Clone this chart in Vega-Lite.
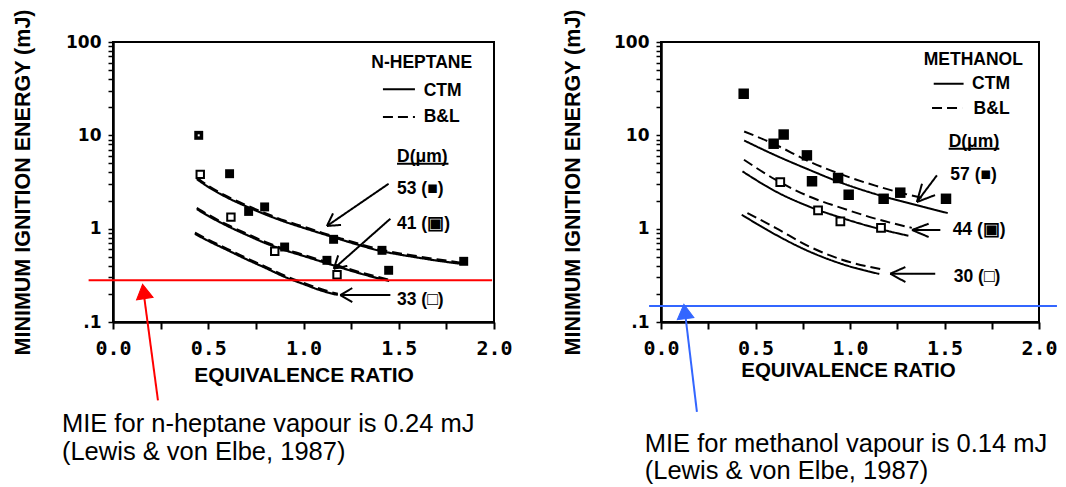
{
  "$schema": "https://vega.github.io/schema/vega-lite/v6.json",
  "padding": {"left": 10, "top": 7, "right": 0, "bottom": 0},
  "autosize": {"type": "pad"},
  "background": "white",
  "config": {"view": {"stroke": "black", "strokeWidth": 2}, "font": "Liberation Sans"},
  "bounds": "flush",
  "spacing": 167,
  "datasets": {
    "curvesL": [
      {"c": "53", "m": "CTM", "x": 0.44, "y": 3.4}, {"c": "53", "m": "CTM", "x": 0.5, "y": 2.8}, {"c": "53", "m": "CTM", "x": 0.6, "y": 2.15}, {"c": "53", "m": "CTM", "x": 0.7, "y": 1.73}, {"c": "53", "m": "CTM", "x": 0.8, "y": 1.42}, {"c": "53", "m": "CTM", "x": 0.9, "y": 1.19}, {"c": "53", "m": "CTM", "x": 1.0, "y": 1.02}, {"c": "53", "m": "CTM", "x": 1.1, "y": 0.88}, {"c": "53", "m": "CTM", "x": 1.2, "y": 0.76}, {"c": "53", "m": "CTM", "x": 1.3, "y": 0.66}, {"c": "53", "m": "CTM", "x": 1.4, "y": 0.58}, {"c": "53", "m": "CTM", "x": 1.5, "y": 0.53}, {"c": "53", "m": "CTM", "x": 1.6, "y": 0.49}, {"c": "53", "m": "CTM", "x": 1.7, "y": 0.455}, {"c": "53", "m": "CTM", "x": 1.83, "y": 0.42},
      {"c": "53", "m": "B&L", "x": 0.44, "y": 3.5}, {"c": "53", "m": "B&L", "x": 0.5, "y": 2.88}, {"c": "53", "m": "B&L", "x": 0.6, "y": 2.21}, {"c": "53", "m": "B&L", "x": 0.7, "y": 1.78}, {"c": "53", "m": "B&L", "x": 0.8, "y": 1.46}, {"c": "53", "m": "B&L", "x": 0.9, "y": 1.22}, {"c": "53", "m": "B&L", "x": 1.0, "y": 1.05}, {"c": "53", "m": "B&L", "x": 1.1, "y": 0.9}, {"c": "53", "m": "B&L", "x": 1.2, "y": 0.78}, {"c": "53", "m": "B&L", "x": 1.3, "y": 0.68}, {"c": "53", "m": "B&L", "x": 1.4, "y": 0.6}, {"c": "53", "m": "B&L", "x": 1.5, "y": 0.545}, {"c": "53", "m": "B&L", "x": 1.6, "y": 0.505}, {"c": "53", "m": "B&L", "x": 1.7, "y": 0.47}, {"c": "53", "m": "B&L", "x": 1.83, "y": 0.43},
      {"c": "41", "m": "CTM", "x": 0.44, "y": 1.62}, {"c": "41", "m": "CTM", "x": 0.5, "y": 1.37}, {"c": "41", "m": "CTM", "x": 0.6, "y": 1.07}, {"c": "41", "m": "CTM", "x": 0.7, "y": 0.86}, {"c": "41", "m": "CTM", "x": 0.8, "y": 0.7}, {"c": "41", "m": "CTM", "x": 0.9, "y": 0.59}, {"c": "41", "m": "CTM", "x": 1.0, "y": 0.51}, {"c": "41", "m": "CTM", "x": 1.1, "y": 0.44}, {"c": "41", "m": "CTM", "x": 1.2, "y": 0.38}, {"c": "41", "m": "CTM", "x": 1.3, "y": 0.33}, {"c": "41", "m": "CTM", "x": 1.45, "y": 0.275},
      {"c": "41", "m": "B&L", "x": 0.44, "y": 1.67}, {"c": "41", "m": "B&L", "x": 0.5, "y": 1.41}, {"c": "41", "m": "B&L", "x": 0.6, "y": 1.1}, {"c": "41", "m": "B&L", "x": 0.7, "y": 0.885}, {"c": "41", "m": "B&L", "x": 0.8, "y": 0.72}, {"c": "41", "m": "B&L", "x": 0.9, "y": 0.605}, {"c": "41", "m": "B&L", "x": 1.0, "y": 0.525}, {"c": "41", "m": "B&L", "x": 1.1, "y": 0.453}, {"c": "41", "m": "B&L", "x": 1.2, "y": 0.39}, {"c": "41", "m": "B&L", "x": 1.3, "y": 0.34}, {"c": "41", "m": "B&L", "x": 1.45, "y": 0.283},
      {"c": "33", "m": "CTM", "x": 0.43, "y": 0.88}, {"c": "33", "m": "CTM", "x": 0.5, "y": 0.74}, {"c": "33", "m": "CTM", "x": 0.6, "y": 0.59}, {"c": "33", "m": "CTM", "x": 0.7, "y": 0.47}, {"c": "33", "m": "CTM", "x": 0.8, "y": 0.38}, {"c": "33", "m": "CTM", "x": 0.9, "y": 0.305}, {"c": "33", "m": "CTM", "x": 1.0, "y": 0.255}, {"c": "33", "m": "CTM", "x": 1.1, "y": 0.215}, {"c": "33", "m": "CTM", "x": 1.18, "y": 0.195},
      {"c": "33", "m": "B&L", "x": 0.43, "y": 0.905}, {"c": "33", "m": "B&L", "x": 0.5, "y": 0.762}, {"c": "33", "m": "B&L", "x": 0.6, "y": 0.607}, {"c": "33", "m": "B&L", "x": 0.7, "y": 0.484}, {"c": "33", "m": "B&L", "x": 0.8, "y": 0.391}, {"c": "33", "m": "B&L", "x": 0.9, "y": 0.314}, {"c": "33", "m": "B&L", "x": 1.0, "y": 0.263}, {"c": "33", "m": "B&L", "x": 1.1, "y": 0.222}, {"c": "33", "m": "B&L", "x": 1.18, "y": 0.2}
    ],
    "curvesR": [
      {"c": "57", "m": "CTM", "x": 0.44, "y": 8.8}, {"c": "57", "m": "CTM", "x": 0.606, "y": 6.1}, {"c": "57", "m": "CTM", "x": 0.782, "y": 4.29}, {"c": "57", "m": "CTM", "x": 0.958, "y": 3.08}, {"c": "57", "m": "CTM", "x": 1.134, "y": 2.35}, {"c": "57", "m": "CTM", "x": 1.309, "y": 1.88}, {"c": "57", "m": "CTM", "x": 1.517, "y": 1.47},
      {"c": "57", "m": "B&L", "x": 0.44, "y": 11.0}, {"c": "57", "m": "B&L", "x": 0.606, "y": 7.94}, {"c": "57", "m": "B&L", "x": 0.782, "y": 5.26}, {"c": "57", "m": "B&L", "x": 0.958, "y": 3.79}, {"c": "57", "m": "B&L", "x": 1.134, "y": 2.89}, {"c": "57", "m": "B&L", "x": 1.309, "y": 2.31}, {"c": "57", "m": "B&L", "x": 1.39, "y": 2.12},
      {"c": "44", "m": "CTM", "x": 0.431, "y": 4.11}, {"c": "44", "m": "CTM", "x": 0.606, "y": 2.51}, {"c": "44", "m": "CTM", "x": 0.782, "y": 1.73}, {"c": "44", "m": "CTM", "x": 0.958, "y": 1.3}, {"c": "44", "m": "CTM", "x": 1.134, "y": 1.02}, {"c": "44", "m": "CTM", "x": 1.309, "y": 0.84},
      {"c": "44", "m": "B&L", "x": 0.439, "y": 5.48}, {"c": "44", "m": "B&L", "x": 0.606, "y": 3.35}, {"c": "44", "m": "B&L", "x": 0.782, "y": 2.22}, {"c": "44", "m": "B&L", "x": 0.958, "y": 1.66}, {"c": "44", "m": "B&L", "x": 1.134, "y": 1.28}, {"c": "44", "m": "B&L", "x": 1.327, "y": 1.02},
      {"c": "30", "m": "CTM", "x": 0.427, "y": 1.41}, {"c": "30", "m": "CTM", "x": 0.606, "y": 0.863}, {"c": "30", "m": "CTM", "x": 0.782, "y": 0.572}, {"c": "30", "m": "CTM", "x": 0.958, "y": 0.418}, {"c": "30", "m": "CTM", "x": 1.155, "y": 0.327},
      {"c": "30", "m": "B&L", "x": 0.457, "y": 1.47}, {"c": "30", "m": "B&L", "x": 0.606, "y": 1.02}, {"c": "30", "m": "B&L", "x": 0.782, "y": 0.647}, {"c": "30", "m": "B&L", "x": 0.958, "y": 0.465}, {"c": "30", "m": "B&L", "x": 1.16, "y": 0.37}
    ],
    "ptsL": [
      {"d": "53", "x": 0.612, "y": 3.88}, {"d": "53", "x": 0.712, "y": 1.53}, {"d": "53", "x": 0.796, "y": 1.71}, {"d": "53", "x": 0.901, "y": 0.636}, {"d": "53", "x": 1.158, "y": 0.769}, {"d": "53", "x": 1.123, "y": 0.458}, {"d": "53", "x": 1.412, "y": 0.586}, {"d": "53", "x": 1.447, "y": 0.358}, {"d": "53", "x": 1.841, "y": 0.447},
      {"d": "41", "x": 0.45, "y": 10.0},
      {"d": "33", "x": 0.458, "y": 3.82}, {"d": "33", "x": 0.619, "y": 1.33}, {"d": "33", "x": 0.849, "y": 0.572}, {"d": "33", "x": 1.176, "y": 0.321}
    ],
    "ptsR": [
      {"d": "57", "x": 0.4375, "y": 27.9}, {"d": "57", "x": 0.596, "y": 8.13}, {"d": "57", "x": 0.649, "y": 10.2}, {"d": "57", "x": 0.772, "y": 6.1}, {"d": "57", "x": 0.799, "y": 3.22}, {"d": "57", "x": 0.937, "y": 3.49}, {"d": "57", "x": 0.993, "y": 2.31}, {"d": "57", "x": 1.178, "y": 2.09}, {"d": "57", "x": 1.266, "y": 2.43}, {"d": "57", "x": 1.508, "y": 2.09},
      {"d": "44", "x": 0.631, "y": 3.16}, {"d": "44", "x": 0.831, "y": 1.57}, {"d": "44", "x": 0.949, "y": 1.2}, {"d": "44", "x": 1.164, "y": 1.02}
    ],
    "segL": [
      {"k": "solid", "x": 1.417, "y": 31.1, "x2": 1.585, "y2": 31.1},
      {"k": "dash", "x": 1.417, "y": 15.7, "x2": 1.585, "y2": 15.7},
      {"k": "solid", "x": 1.491, "y": 4.97, "x2": 1.761, "y2": 4.97},
      {"k": "solid", "x": 1.447, "y": 3.03, "x2": 1.123, "y2": 1.068},
      {"k": "solid", "x": 1.123, "y": 1.068, "x2": 1.197, "y2": 1.097},
      {"k": "solid", "x": 1.123, "y": 1.068, "x2": 1.155, "y2": 1.457},
      {"k": "solid", "x": 1.456, "y": 1.278, "x2": 1.159, "y2": 0.3724},
      {"k": "solid", "x": 1.159, "y": 0.3724, "x2": 1.23, "y2": 0.399},
      {"k": "solid", "x": 1.159, "y": 0.3724, "x2": 1.182, "y2": 0.517},
      {"k": "solid", "x": 1.456, "y": 0.1945, "x2": 1.193, "y2": 0.1945},
      {"k": "solid", "x": 1.193, "y": 0.1945, "x2": 1.256, "y2": 0.231},
      {"k": "solid", "x": 1.193, "y": 0.1945, "x2": 1.256, "y2": 0.1637}
    ],
    "segR": [
      {"k": "solid", "x": 1.443, "y": 35.7, "x2": 1.601, "y2": 35.7},
      {"k": "dash", "x": 1.434, "y": 19.6, "x2": 1.593, "y2": 19.6},
      {"k": "solid", "x": 1.522, "y": 7.2, "x2": 1.79, "y2": 7.2},
      {"k": "solid", "x": 1.46, "y": 3.73, "x2": 1.354, "y2": 1.93},
      {"k": "solid", "x": 1.354, "y": 1.93, "x2": 1.45, "y2": 2.29},
      {"k": "solid", "x": 1.354, "y": 1.93, "x2": 1.381, "y2": 3.03},
      {"k": "solid", "x": 1.478, "y": 0.968, "x2": 1.328, "y2": 0.968},
      {"k": "solid", "x": 1.328, "y": 0.968, "x2": 1.416, "y2": 1.13},
      {"k": "solid", "x": 1.328, "y": 0.968, "x2": 1.416, "y2": 0.814},
      {"k": "solid", "x": 1.451, "y": 0.329, "x2": 1.213, "y2": 0.329},
      {"k": "solid", "x": 1.213, "y": 0.329, "x2": 1.293, "y2": 0.388},
      {"k": "solid", "x": 1.213, "y": 0.329, "x2": 1.293, "y2": 0.268}
    ],
    "legL": [
      {"x": 1.356, "y": 53.1, "t": "N-HEPTANE"}, {"x": 1.631, "y": 26.4, "t": "CTM"}, {"x": 1.631, "y": 13.9, "t": "B&L"}, {"x": 1.491, "y": 5.18, "t": "D(μm)"}, {"x": 1.491, "y": 2.37, "t": "53 (■)"}, {"x": 1.491, "y": 1.0, "t": "41 (▣)"}, {"x": 1.491, "y": 0.151, "t": "33 (□)"}
    ],
    "legR": [
      {"x": 1.39, "y": 56.3, "t": "METHANOL"}, {"x": 1.646, "y": 31.1, "t": "CTM"}, {"x": 1.654, "y": 17.1, "t": "B&L"}, {"x": 1.522, "y": 7.5, "t": "D(μm)"}, {"x": 1.531, "y": 3.3, "t": "57 (■)"}, {"x": 1.543, "y": 0.849, "t": "44 (▣)"}, {"x": 1.549, "y": 0.268, "t": "30 (□)"}
    ],
    "noteL": [
      {"x": -0.268, "y": 0.00662, "t": "MIE for n-heptane vapour is 0.24 mJ"}, {"x": -0.268, "y": 0.00335, "t": "(Lewis & von Elbe, 1987)"}
    ],
    "noteR": [
      {"x": -0.086, "y": 0.00405, "t": "MIE for methanol vapour is 0.14 mJ"}, {"x": -0.086, "y": 0.00207, "t": "(Lewis & von Elbe, 1987)"}
    ],
    "mieL": [{"x": -0.128, "x2": 1.99, "y": 0.28}],
    "mieR": [{"x": -0.063, "x2": 2.095, "y": 0.148}],
    "shaftL": [{"x": 0.236, "y": 0.0145, "x2": 0.163, "y2": 0.19}],
    "shaftR": [{"x": 0.19, "y": 0.01086, "x2": 0.129, "y2": 0.118}],
    "headL": [{"x": 0.163, "y": 0.2}],
    "headR": [{"x": 0.127, "y": 0.122}]
  },
  "hconcat": [
    {
      "width": 381,
      "height": 280,
      "encoding": {
        "x": {"field": "x", "type": "quantitative", "scale": {"domain": [0, 2], "nice": false, "zero": false},
          "axis": {"title": "EQUIVALENCE RATIO", "values": [0, 0.25, 0.5, 0.75, 1, 1.25, 1.5, 1.75, 2], "labelExpr": "datum.value % 0.5 == 0 ? format(datum.value, '.1f') : ''", "labelFlush": false, "labelOverlap": false, "labelBound": false, "labelFont": "DejaVu Sans Mono", "labelFontWeight": "bold", "labelFontSize": 20, "labelColor": "black", "labelBaseline": "middle", "labelPadding": 19, "tickSize": 7, "tickWidth": 2, "tickColor": "black", "domainColor": "black", "domainWidth": 2.5, "grid": false, "titleFont": "Liberation Sans", "titleFontWeight": "bold", "titleFontSize": 21, "titleColor": "black", "titleBaseline": "middle", "titleAlign": "center", "titleX": 190.5, "titleY": 53}},
        "y": {"field": "y", "type": "quantitative", "scale": {"type": "log", "domain": [0.1, 100], "nice": false},
          "axis": {"title": "MINIMUM IGNITION ENERGY (mJ)", "values": [0.1, 0.2, 0.3, 0.4, 0.5, 0.6, 0.7, 0.8, 0.9, 1, 2, 3, 4, 5, 6, 7, 8, 9, 10, 20, 30, 40, 50, 60, 70, 80, 90, 100], "labelExpr": "datum.value == 0.1 ? '.1' : (datum.value == 1 || datum.value == 10 || datum.value == 100 ? format(datum.value, 'd') : '')", "labelFlush": false, "labelOverlap": false, "labelBound": false, "labelFont": "DejaVu Sans", "labelFontWeight": "bold", "labelFontSize": 17, "labelColor": "black", "labelPadding": 7, "tickSize": 5, "tickWidth": 1.5, "tickColor": "black", "domainColor": "black", "domainWidth": 2.5, "grid": false, "titleFont": "Liberation Sans", "titleFontWeight": "bold", "titleFontSize": 21.5, "titleColor": "black", "titleAngle": 270, "titleBaseline": "middle", "titleAlign": "center", "titleX": -90, "titleY": 140}}
      },
      "layer": [
        {"data": {"name": "curvesL"}, "mark": {"type": "line", "interpolate": "monotone", "clip": false, "strokeWidth": 2.2, "color": "black"},
          "encoding": {"detail": {"field": "c"}, "strokeDash": {"field": "m", "type": "nominal", "scale": {"domain": ["CTM", "B&L"], "range": [[1, 0], [10, 5]]}, "legend": null}}},
        {"data": {"name": "ptsL"}, "transform": [{"filter": "datum.d != '33'"}], "mark": {"type": "point", "shape": "square", "filled": true, "color": "black", "size": 80, "opacity": 1, "clip": false}},
        {"data": {"name": "ptsL"}, "transform": [{"filter": "datum.d == '41'"}], "mark": {"type": "point", "shape": "square", "filled": true, "color": "white", "size": 4, "opacity": 1, "clip": false}},
        {"data": {"name": "ptsL"}, "transform": [{"filter": "datum.d == '33'"}], "mark": {"type": "point", "shape": "square", "filled": true, "fill": "white", "stroke": "black", "strokeWidth": 2, "size": 55, "opacity": 1, "clip": false}},
        {"data": {"name": "segL"}, "mark": {"type": "rule", "color": "black", "strokeWidth": 2, "clip": false},
          "encoding": {"x2": {"field": "x2"}, "y2": {"field": "y2"}, "strokeDash": {"field": "k", "type": "nominal", "scale": {"domain": ["solid", "dash"], "range": [[1, 0], [8, 10]]}, "legend": null}}},
        {"data": {"name": "legL"}, "mark": {"type": "text", "align": "left", "baseline": "alphabetic", "font": "Liberation Sans", "fontWeight": "bold", "fontSize": 17.5, "color": "black", "clip": false},
          "encoding": {"text": {"field": "t"}}},
        {"data": {"name": "mieL"}, "mark": {"type": "rule", "color": "#ff0000", "strokeWidth": 2, "clip": false},
          "encoding": {"x2": {"field": "x2"}}},
        {"data": {"name": "shaftL"}, "mark": {"type": "rule", "color": "#ff0000", "strokeWidth": 2, "clip": false},
          "encoding": {"x2": {"field": "x2"}, "y2": {"field": "y2"}}},
        {"data": {"name": "headL"}, "mark": {"type": "point", "shape": "triangle", "filled": true, "fill": "#ff0000", "stroke": "#ff0000", "strokeWidth": 1, "size": 280, "angle": 351, "opacity": 1, "clip": false}},
        {"data": {"name": "noteL"}, "mark": {"type": "text", "align": "left", "baseline": "alphabetic", "font": "Liberation Sans", "fontSize": 25.5, "color": "black", "clip": false},
          "encoding": {"text": {"field": "t"}}}
      ]
    },
    {
      "width": 378,
      "height": 280,
      "encoding": {
        "x": {"field": "x", "type": "quantitative", "scale": {"domain": [0, 2], "nice": false, "zero": false},
          "axis": {"title": "EQUIVALENCE RATIO", "values": [0, 0.25, 0.5, 0.75, 1, 1.25, 1.5, 1.75, 2], "labelExpr": "datum.value % 0.5 == 0 ? format(datum.value, '.1f') : ''", "labelFlush": false, "labelOverlap": false, "labelBound": false, "labelFont": "DejaVu Sans Mono", "labelFontWeight": "bold", "labelFontSize": 20, "labelColor": "black", "labelBaseline": "middle", "labelPadding": 19, "tickSize": 7, "tickWidth": 2, "tickColor": "black", "domainColor": "black", "domainWidth": 2.5, "grid": false, "titleFont": "Liberation Sans", "titleFontWeight": "bold", "titleFontSize": 20.5, "titleColor": "black", "titleBaseline": "middle", "titleAlign": "center", "titleX": 187, "titleY": 48}},
        "y": {"field": "y", "type": "quantitative", "scale": {"type": "log", "domain": [0.1, 100], "nice": false},
          "axis": {"title": "MINIMUM IGNITION ENERGY (mJ)", "values": [0.1, 0.2, 0.3, 0.4, 0.5, 0.6, 0.7, 0.8, 0.9, 1, 2, 3, 4, 5, 6, 7, 8, 9, 10, 20, 30, 40, 50, 60, 70, 80, 90, 100], "labelExpr": "datum.value == 0.1 ? '.1' : (datum.value == 1 || datum.value == 10 || datum.value == 100 ? format(datum.value, 'd') : '')", "labelFlush": false, "labelOverlap": false, "labelBound": false, "labelFont": "DejaVu Sans", "labelFontWeight": "bold", "labelFontSize": 17, "labelColor": "black", "labelPadding": 7, "tickSize": 5, "tickWidth": 1.5, "tickColor": "black", "domainColor": "black", "domainWidth": 2.5, "grid": false, "titleFont": "Liberation Sans", "titleFontWeight": "bold", "titleFontSize": 21.5, "titleColor": "black", "titleAngle": 270, "titleBaseline": "middle", "titleAlign": "center", "titleX": -88, "titleY": 140}}
      },
      "layer": [
        {"data": {"name": "curvesR"}, "mark": {"type": "line", "interpolate": "monotone", "clip": false, "strokeWidth": 2, "color": "black"},
          "encoding": {"detail": {"field": "c"}, "strokeDash": {"field": "m", "type": "nominal", "scale": {"domain": ["CTM", "B&L"], "range": [[1, 0], [17, 11]]}, "legend": null}}},
        {"data": {"name": "ptsR"}, "transform": [{"filter": "datum.d == '57'"}], "mark": {"type": "point", "shape": "square", "filled": true, "color": "black", "size": 110, "opacity": 1, "clip": false}},
        {"data": {"name": "ptsR"}, "transform": [{"filter": "datum.d == '44'"}], "mark": {"type": "point", "shape": "square", "filled": true, "fill": "white", "stroke": "black", "strokeWidth": 2, "size": 60, "opacity": 1, "clip": false}},
        {"data": {"name": "segR"}, "mark": {"type": "rule", "color": "black", "strokeWidth": 2, "clip": false},
          "encoding": {"x2": {"field": "x2"}, "y2": {"field": "y2"}, "strokeDash": {"field": "k", "type": "nominal", "scale": {"domain": ["solid", "dash"], "range": [[1, 0], [10, 8]]}, "legend": null}}},
        {"data": {"name": "legR"}, "mark": {"type": "text", "align": "left", "baseline": "alphabetic", "font": "Liberation Sans", "fontWeight": "bold", "fontSize": 17.5, "color": "black", "clip": false},
          "encoding": {"text": {"field": "t"}}},
        {"data": {"name": "mieR"}, "mark": {"type": "rule", "color": "#3366ff", "strokeWidth": 2, "clip": false},
          "encoding": {"x2": {"field": "x2"}}},
        {"data": {"name": "shaftR"}, "mark": {"type": "rule", "color": "#3366ff", "strokeWidth": 2, "clip": false},
          "encoding": {"x2": {"field": "x2"}, "y2": {"field": "y2"}}},
        {"data": {"name": "headR"}, "mark": {"type": "point", "shape": "triangle", "filled": true, "fill": "#3366ff", "stroke": "#3366ff", "strokeWidth": 1, "size": 280, "angle": 353, "opacity": 1, "clip": false}},
        {"data": {"name": "noteR"}, "mark": {"type": "text", "align": "left", "baseline": "alphabetic", "font": "Liberation Sans", "fontSize": 25.5, "color": "black", "clip": false},
          "encoding": {"text": {"field": "t"}}}
      ]
    }
  ]
}
